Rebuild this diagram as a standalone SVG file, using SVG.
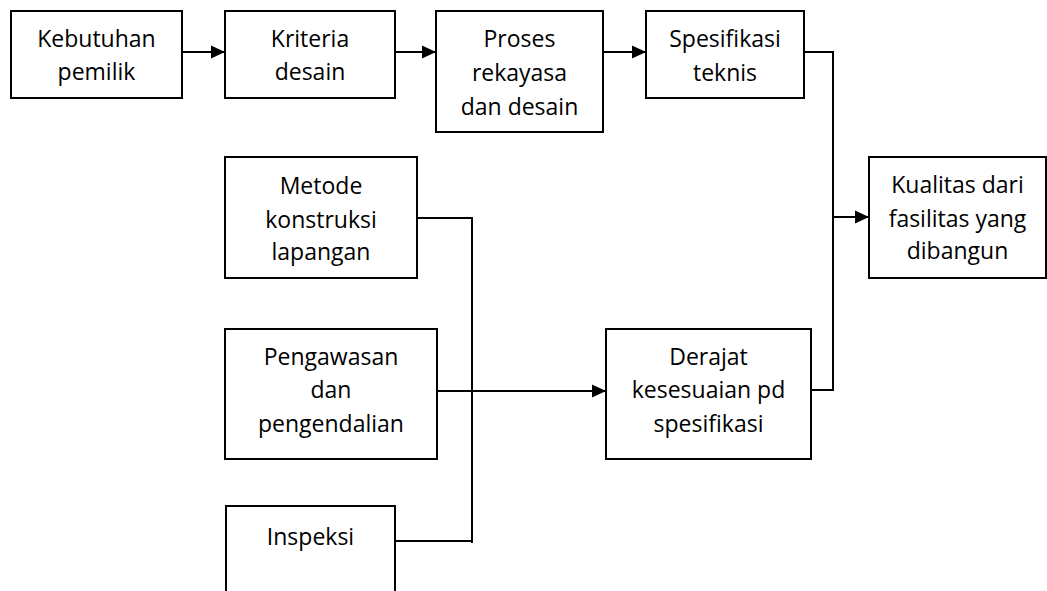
<svg xmlns="http://www.w3.org/2000/svg" width="1047" height="591" viewBox="0 0 1047 591">
  <style>
    .box { fill: #ffffff; stroke: #000000; stroke-width: 2; }
    .lbl { font-family: "Open Sans", "Noto Sans", sans-serif; font-size: 23px; fill: #000000; text-anchor: middle; }
    .wire { fill: none; stroke: #000000; stroke-width: 2; }
  </style>
  <defs>
    <marker id="arrow" markerUnits="userSpaceOnUse" markerWidth="14" markerHeight="14" refX="14" refY="7" orient="auto">
      <path d="M0,0.5 L14,7 L0,13.5 Z" fill="#000000"/>
    </marker>
  </defs>
  <rect width="1047" height="591" fill="#ffffff"/>

  <g id="connectors">
    <path class="wire" d="M182,52 H225" marker-end="url(#arrow)"/>
    <path class="wire" d="M395,52 H436" marker-end="url(#arrow)"/>
    <path class="wire" d="M603,52 H646" marker-end="url(#arrow)"/>
    <path class="wire" d="M804,52 H833 V390 H811"/>
    <path class="wire" d="M833,217 H869" marker-end="url(#arrow)"/>
    <path class="wire" d="M417,218 H472 V543"/>
    <path class="wire" d="M395,541 H472"/>
    <path class="wire" d="M437,391 H606" marker-end="url(#arrow)"/>
  </g>

  <g id="kebutuhan">
    <rect class="box" x="11" y="11" width="171" height="87"/>
    <text class="lbl" x="96.5" y="47">Kebutuhan</text>
    <text class="lbl" x="96.5" y="80">pemilik</text>
  </g>
  <g id="kriteria">
    <rect class="box" x="225" y="11" width="170" height="87"/>
    <text class="lbl" x="310" y="47">Kriteria</text>
    <text class="lbl" x="310" y="80">desain</text>
  </g>
  <g id="proses">
    <rect class="box" x="436" y="11" width="167" height="121"/>
    <text class="lbl" x="519.5" y="47">Proses</text>
    <text class="lbl" x="519.5" y="81">rekayasa</text>
    <text class="lbl" x="519.5" y="115">dan desain</text>
  </g>
  <g id="spesifikasi">
    <rect class="box" x="646" y="11" width="158" height="87"/>
    <text class="lbl" x="725" y="47">Spesifikasi</text>
    <text class="lbl" x="725" y="81">teknis</text>
  </g>
  <g id="kualitas">
    <rect class="box" x="869" y="157" width="177" height="121"/>
    <text class="lbl" x="957.5" y="193">Kualitas dari</text>
    <text class="lbl" x="957.5" y="227">fasilitas yang</text>
    <text class="lbl" x="957.5" y="259">dibangun</text>
  </g>
  <g id="metode">
    <rect class="box" x="225" y="157" width="192" height="121"/>
    <text class="lbl" x="321" y="194">Metode</text>
    <text class="lbl" x="321" y="228">konstruksi</text>
    <text class="lbl" x="321" y="260">lapangan</text>
  </g>
  <g id="pengawasan">
    <rect class="box" x="225" y="329" width="212" height="130"/>
    <text class="lbl" x="331" y="365">Pengawasan</text>
    <text class="lbl" x="331" y="398">dan</text>
    <text class="lbl" x="331" y="432">pengendalian</text>
  </g>
  <g id="inspeksi">
    <rect class="box" x="226" y="506" width="169" height="100"/>
    <text class="lbl" x="310.5" y="545">Inspeksi</text>
  </g>
  <g id="derajat">
    <rect class="box" x="606" y="329" width="205" height="130"/>
    <text class="lbl" x="708.5" y="365">Derajat</text>
    <text class="lbl" x="708.5" y="398">kesesuaian pd</text>
    <text class="lbl" x="708.5" y="432">spesifikasi</text>
  </g>
</svg>
